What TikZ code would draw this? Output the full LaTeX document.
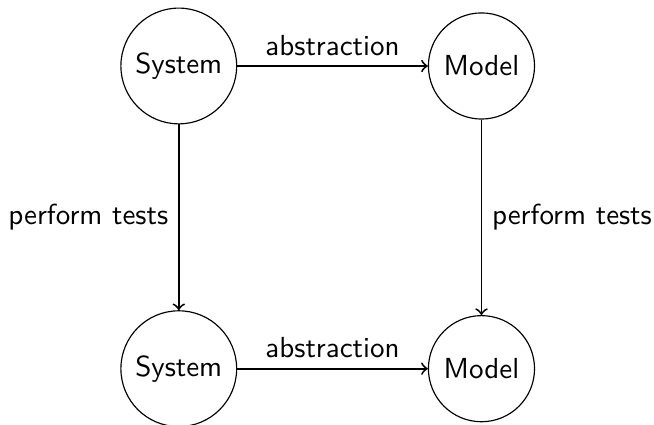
\documentclass[tikz,border=0pt]{standalone}
\usepackage{tikz}
\begin{document}
\begin{tikzpicture}[x=1pt,y=1pt,
  every node/.style={font=\sffamily},
  state/.style={circle,draw,line width=0.4pt},
  conn/.style={->,line width=0.65pt}]
\useasboundingbox (-61.66,-123.8) rectangle (163.9,22.76);
\node[state] (s1) at (0,0) {System};
\node[state,minimum size=36.6pt] (m1) at (104.4,0) {Model};
\node[state] (s2) at (0,-104.4) {System};
\node[state,minimum size=36.6pt] (m2) at (104.4,-104.4) {Model};
\draw[conn] (s1) -- node[above] (l1) {abstraction} (m1);
\draw[conn] (s2) -- node[above] (l2) {abstraction} (m2);
\draw[conn] (s1) -- node[left] (l3) {perform tests} (s2);
\draw[conn] (m1) -- node[right] (l4) {perform tests} (m2);
\end{tikzpicture}
\end{document}
